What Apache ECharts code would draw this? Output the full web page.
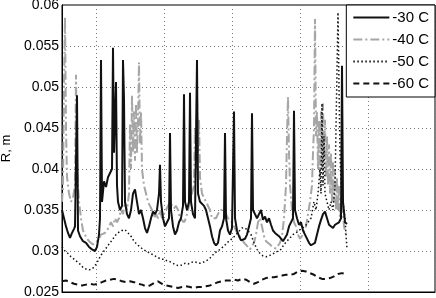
<!DOCTYPE html>
<html><head><meta charset="utf-8">
<script src="https://cdn.jsdelivr.net/npm/echarts@6/dist/echarts.min.js"></script>
<style>html,body{margin:0;padding:0;background:#fff}#c{width:436px;height:298px}</style>
</head><body><div id="c"></div>
<script>
const seriesNames = ['-30 C', '-40 C', '-50 C', '-60 C'];
const yTicks = { min: 0.025, max: 0.06, step: 0.005 };
const xRange = { min: -34, max: 339, step: 68 };

const s30 = [[-34,.035],[-32,.034],[-30,.033],[-28,.0322],[-26,.0316],[-24,.0322],[-22,.0327],[-21,.033],[-19,.049],[-18,.0325],[-16,.0318],[-13,.0312],[-10,.031],[-7,.0305],[-4,.0302],[-1,.030],[1,.0305],[3,.032],[4,.034],[5,.0533],[6,.036],[8,.0385],[10,.0378],[12,.039],[14,.0392],[16,.040],[17,.0548],[18,.042],[20,.0506],[21,.038],[22,.036],[24,.035],[26,.0355],[27,.0533],[28,.0485],[29,.036],[31,.0345],[33,.034],[35,.035],[37,.037],[39,.0375],[41,.036],[43,.0345],[45,.035],[47,.034],[49,.0328],[51,.0322],[53,.033],[55,.034],[57,.0348],[59,.0345],[61,.035],[63,.037],[64,.0405],[65,.036],[67,.034],[69,.033],[71,.0335],[73,.034],[74,.0444],[75,.035],[77,.033],[79,.032],[81,.0325],[83,.0335],[85,.034],[87,.0355],[88,.0491],[89,.036],[91,.035],[93,.036],[94,.0493],[95,.036],[97,.0345],[99,.034],[101,.0533],[102,.037],[104,.036],[106,.0362],[108,.0355],[110,.035],[112,.034],[114,.033],[116,.0318],[118,.031],[120,.0307],[122,.031],[124,.0325],[126,.033],[128,.034],[129,.0444],[130,.034],[132,.0325],[134,.032],[136,.0328],[138,.047],[139,.034],[141,.0325],[143,.0318],[145,.0313],[147,.0312],[149,.0315],[151,.032],[153,.033],[155,.034],[156,.0468],[157,.035],[159,.0345],[161,.034],[163,.0345],[165,.035],[167,.0338],[169,.0342],[171,.0335],[173,.034],[175,.0332],[177,.0325],[179,.0322],[181,.032],[183,.0318],[185,.0315],[187,.0312],[189,.0313],[191,.032],[193,.033],[195,.0328],[197,.034],[198,.0471],[199,.035],[201,.034],[203,.0332],[205,.0335],[207,.0325],[209,.032],[211,.0318],[213,.031],[215,.0307],[217,.0308],[219,.031],[221,.032],[223,.033],[225,.0338],[227,.0345],[229,.0348],[231,.034],[233,.0332],[235,.033],[237,.0328],[239,.0332],[241,.033],[243,.0335],[245,.034],[246,.0526],[247,.036],[249,.0335],[251,.0333]];

const s40 = [[-34,.036],[-33,.038],[-32,.050],[-31,.0585],[-30,.045],[-29,.039],[-27,.037],[-25,.036],[-23,.0365],[-21,.038],[-20,.0515],[-19,.040],[-17,.036],[-15,.034],[-13,.0325],[-11,.032],[-9,.0315],[-7,.0312],[-5,.031],[-3,.0308],[-1,.031],[1,.0312],[3,.0315],[5,.032],[7,.0318],[9,.0322],[11,.0325],[13,.033],[15,.0335],[17,.033],[19,.034],[21,.0335],[23,.034],[25,.035],[27,.0345],[29,.036],[31,.035],[33,.037],[34,.0455],[35,.040],[36,.049],[37,.042],[38,.047],[39,.041],[40,.048],[41,.042],[42,.046],[43,.053],[44,.043],[45,.047],[46,.040],[48,.038],[50,.037],[52,.036],[54,.0355],[56,.035],[58,.034],[60,.0345],[62,.034],[64,.035],[66,.034],[68,.0345],[70,.035],[72,.0355],[74,.036],[76,.0355],[78,.0352],[80,.0355],[82,.035],[84,.034],[86,.0338],[88,.0335],[90,.034],[92,.035],[94,.036],[96,.037],[98,.038],[99,.045],[100,.040],[101,.049],[102,.042],[103,.046],[104,.039],[106,.037],[108,.0365],[110,.036],[112,.0362],[114,.035],[116,.034],[118,.0338],[120,.034],[122,.0345],[124,.035],[126,.0348],[128,.035],[130,.0345],[132,.034],[134,.034],[136,.0335],[138,.033],[140,.0325],[142,.032],[144,.0318],[146,.0315],[148,.031],[150,.0308],[152,.0305],[154,.0302],[156,.0303],[158,.031],[160,.032],[162,.0335],[164,.034],[166,.033],[168,.0318],[170,.0312],[172,.031],[174,.0308],[176,.0305],[178,.0307],[180,.0303],[182,.0305],[184,.031],[186,.0318],[188,.034],[190,.038],[191,.044],[192,.0488],[193,.042],[194,.038],[196,.035],[198,.0335],[200,.033],[202,.032],[204,.0315],[206,.0318],[208,.032],[210,.033],[212,.0345],[214,.036],[216,.038],[217,.042],[218,.045],[219,.0583],[220,.044],[221,.047],[222,.040],[223,.046],[224,.039],[225,.047],[226,.040],[227,.048],[228,.041],[229,.046],[230,.039],[231,.044],[232,.038],[233,.043],[234,.037],[235,.042],[236,.036],[237,.041],[238,.036],[239,.040],[240,.035],[241,.039],[242,.035],[243,.038],[244,.034],[246,.036],[248,.033],[250,.032],[251,.0318]];

const s50 = [[-34,.0305],[-31,.030],[-28,.0297],[-25,.0293],[-22,.029],[-19,.0287],[-16,.0284],[-13,.028],[-10,.0278],[-7,.0277],[-4,.0278],[-1,.0282],[2,.0288],[5,.0295],[8,.030],[11,.0305],[14,.031],[17,.0315],[20,.032],[23,.0323],[26,.0325],[29,.0326],[32,.0322],[35,.0318],[38,.0312],[41,.0308],[44,.0305],[47,.0302],[50,.030],[53,.0298],[56,.0296],[59,.0294],[62,.0292],[65,.029],[68,.029],[71,.0288],[74,.0287],[77,.0285],[80,.0283],[83,.0282],[86,.0283],[89,.0285],[92,.0284],[95,.0286],[98,.0287],[101,.0286],[104,.0285],[107,.0286],[110,.0288],[113,.029],[116,.0294],[119,.0298],[122,.030],[125,.0303],[128,.0306],[131,.031],[134,.0313],[137,.0316],[140,.032],[143,.0324],[146,.0328],[149,.0328],[152,.0325],[155,.032],[158,.031],[161,.0302],[164,.0297],[167,.0294],[170,.0293],[173,.0294],[176,.0296],[179,.0298],[182,.030],[185,.0302],[188,.0308],[191,.0312],[194,.0316],[197,.032],[200,.0322],[203,.0325],[206,.0328],[209,.033],[212,.0335],[215,.034],[218,.036],[220,.035],[222,.037],[224,.040],[225,.037],[226,.048],[227,.038],[228,.044],[229,.037],[231,.036],[233,.035],[235,.036],[237,.035],[239,.038],[240,.045],[241,.052],[242,.0591],[243,.050],[244,.042],[245,.038],[247,.036],[249,.034],[250,.032],[251,.0303]];

const s60 = [[-34,.0263],[-30,.0264],[-26,.0262],[-22,.026],[-18,.0259],[-14,.0258],[-10,.0259],[-6,.026],[-2,.0259],[2,.026],[6,.0262],[10,.0264],[14,.0265],[18,.0266],[22,.0265],[26,.0263],[30,.0262],[34,.0263],[38,.0262],[42,.026],[46,.0259],[50,.0257],[54,.0258],[58,.0261],[62,.0263],[66,.026],[70,.0258],[74,.0257],[78,.0256],[82,.0255],[86,.0256],[90,.0257],[94,.0256],[98,.0255],[102,.0256],[106,.0256],[110,.0257],[114,.0258],[118,.026],[122,.0262],[126,.0263],[130,.0264],[134,.0264],[138,.0265],[142,.0264],[146,.0266],[150,.0265],[154,.0262],[158,.026],[162,.0262],[166,.0265],[170,.0267],[174,.0268],[178,.0268],[182,.0269],[186,.027],[190,.0271],[194,.0271],[198,.0272],[202,.0275],[206,.0276],[210,.0275],[214,.0273],[218,.0271],[222,.0268],[226,.0266],[230,.0266],[234,.0267],[238,.0269],[242,.0272],[246,.0273],[250,.0272]];

const FONT = 'Liberation Sans, Arial, sans-serif';
const grid = { type: [1, 3], color: '#777', width: 1 };
const chart = echarts.init(document.getElementById('c'), null, { renderer: 'canvas' });
chart.setOption({
  animation: false,
  backgroundColor: '#fff',
  grid: { left: 62, right: 1, top: 5, bottom: 6, show: true, borderColor: '#000', borderWidth: 1,
          backgroundColor: 'transparent', containLabel: false, outerBoundsMode: 'none' },
  legend: {
    orient: 'vertical', right: 1, top: 5,
    data: seriesNames,
    itemWidth: 36, itemHeight: 14, itemGap: 7,
    padding: [5, 6, 6, 6],
    backgroundColor: '#fff', borderColor: '#000', borderWidth: 1,
    itemStyle: { opacity: 0 },
    textStyle: { fontFamily: FONT, fontSize: 15, color: '#000', padding: [0, 0, 0, -2] }
  },
  xAxis: {
    type: 'value', min: xRange.min, max: xRange.max,
    minInterval: xRange.step, maxInterval: xRange.step, splitNumber: 5,
    axisLine: { show: true, onZero: false, lineStyle: { color: '#000' } },
    axisTick: { show: false }, axisLabel: { show: false },
    splitLine: { show: true, lineStyle: grid }
  },
  yAxis: {
    type: 'value', min: yTicks.min, max: yTicks.max, interval: yTicks.step,
    name: 'R, m', nameLocation: 'middle', nameGap: 47,
    nameTextStyle: { fontFamily: FONT, fontSize: 13, color: '#000' },
    axisLine: { show: true, onZero: false, lineStyle: { color: '#000' } },
    axisTick: { show: false },
    axisLabel: { fontFamily: FONT, fontSize: 14, color: '#000', margin: 3,
      formatter: v => String(+v.toFixed(3)) },
    splitLine: { show: true, lineStyle: grid }
  },
  series: [
    { name: seriesNames[0], type: 'line', data: s30, symbol: 'none', z: 4,
      lineStyle: { color: '#111', width: 2, type: 'solid' }, itemStyle: { color: '#111' } },
    { name: seriesNames[1], type: 'line', data: s40, symbol: 'none', z: 2,
      lineStyle: { color: '#a6a6a6', width: 2, type: [9, 3, 2, 3] }, itemStyle: { color: '#a6a6a6' } },
    { name: seriesNames[2], type: 'line', data: s50, symbol: 'none', z: 3,
      lineStyle: { color: '#111', width: 1.5, type: [1.5, 2.5] }, itemStyle: { color: '#111' } },
    { name: seriesNames[3], type: 'line', data: s60, symbol: 'none', z: 3,
      lineStyle: { color: '#111', width: 2, type: [6, 4] }, itemStyle: { color: '#111' } }
  ]
});
</script></body></html>
